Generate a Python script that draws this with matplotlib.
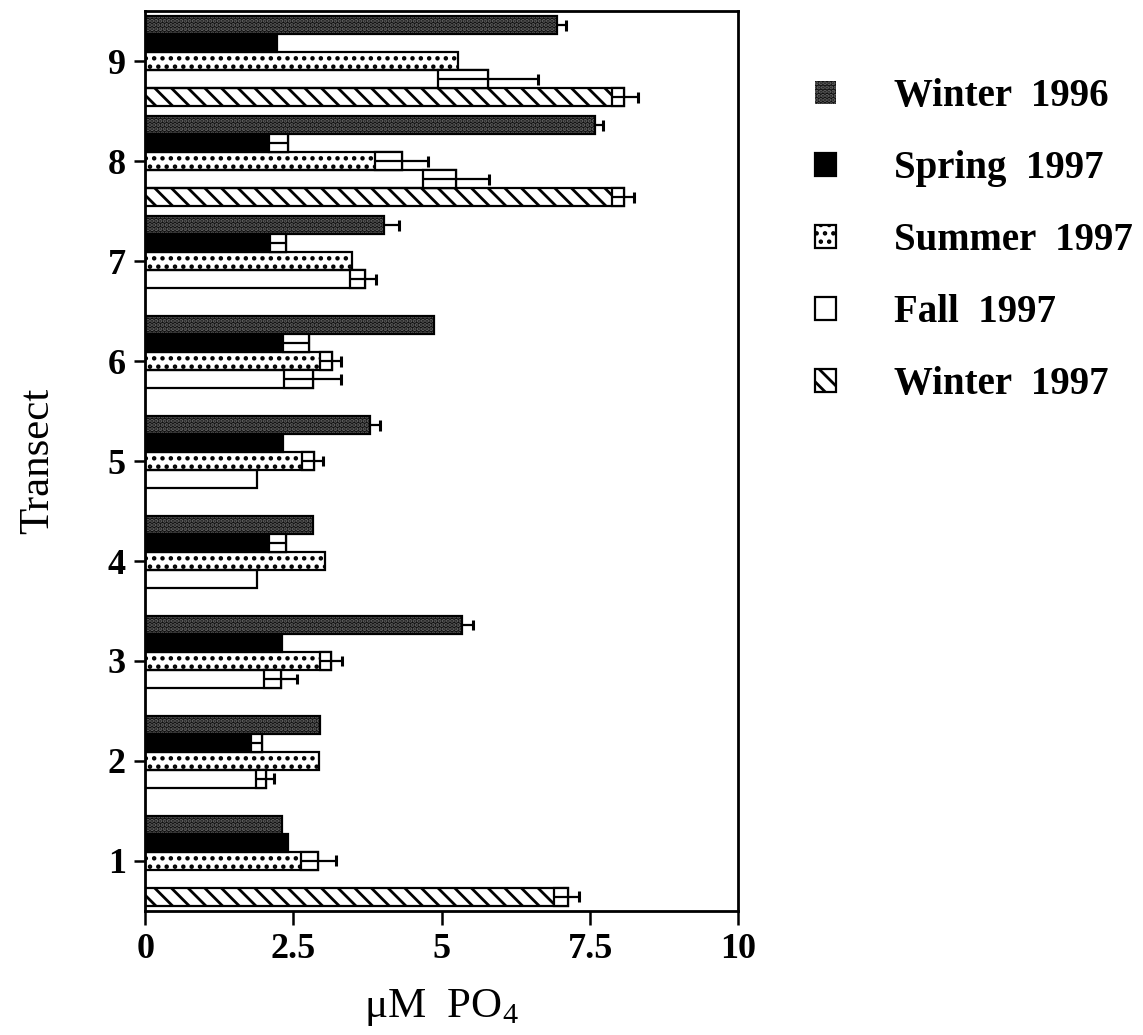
import numpy as np
import matplotlib
matplotlib.use("Agg")
import matplotlib.pyplot as plt
from matplotlib.patches import Patch

plt.rcParams["font.family"] = ["Liberation Serif", "DejaVu Serif"]
plt.rcParams["mathtext.fontset"] = "custom"
plt.rcParams["mathtext.rm"] = "Liberation Serif"
plt.rcParams["hatch.linewidth"] = 2.0

# phosphate (uM PO4) by transect, one list per survey
transects = [1, 2, 3, 4, 5, 6, 7, 8, 9]
seasons = ["Winter  1996", "Spring  1997", "Summer  1997", "Fall  1997", "Winter  1997"]

winter96 = [2.30, 2.94, 5.34, 2.83, 3.79, 4.87, 4.03, 7.59, 6.95]
winter96_lo = [0, 0, 0, 0, 0, 0, 0, 0, 0]
winter96_hi = [0, 0, 0.18, 0, 0.17, 0, 0.25, 0.13, 0.15]

spring97 = [2.40, 1.97, 2.30, 2.37, 2.32, 2.76, 2.37, 2.40, 2.22]
spring97_lo = [0, 0.18, 0, 0.28, 0, 0.44, 0.27, 0.31, 0]
spring97_hi = [0, 0, 0, 0, 0, 0, 0, 0, 0]

summer97 = [2.92, 2.93, 3.14, 3.04, 2.84, 3.15, 3.49, 4.33, 5.27]
summer97_lo = [0.30, 0, 0.20, 0, 0.20, 0.21, 0, 0.45, 0]
summer97_hi = [0.29, 0, 0.18, 0, 0.16, 0.15, 0, 0.43, 0]

fall97 = [np.nan, 2.03, 2.29, 1.88, 1.88, 2.83, 3.70, 5.24, 5.78]
fall97_lo = [0, 0.16, 0.29, 0, 0, 0.49, 0.24, 0.56, 0.85]
fall97_hi = [0, 0.14, 0.27, 0, 0, 0.47, 0.19, 0.56, 0.85]

winter97 = [7.12, np.nan, np.nan, np.nan, np.nan, np.nan, np.nan, 8.08, 8.08]
winter97_lo = [0.22, 0, 0, 0, 0, 0, 0, 0.21, 0.21]
winter97_hi = [0.19, 0, 0, 0, 0, 0, 0, 0.16, 0.22]

series = [
    (winter96, winter96_lo, winter96_hi),
    (spring97, spring97_lo, spring97_hi),
    (summer97, summer97_lo, summer97_hi),
    (fall97, fall97_lo, fall97_hi),
    (winter97, winter97_lo, winter97_hi),
]

# fill styles: (facecolor, hatch, hatch colour)
styles = [
    ("0.06", "....", "0.40"),
    ("black", None, "black"),
    ("white", "..", "black"),
    ("white", None, "black"),
    ("white", "\\\\", "black"),
]

bar_h = 0.18
offsets = [0.36, 0.18, 0.0, -0.18, -0.36]

fig = plt.figure(figsize=(11.43, 10.35), dpi=100)
ax = fig.add_axes([0.127, 0.12, 0.519, 0.869])

y = np.array(transects, dtype=float)
for (vals, lo, hi), (fc, hatch, hc), off in zip(series, styles, offsets):
    vals = np.array(vals)
    lo = np.array(lo)
    hi = np.array(hi)
    ok = ~np.isnan(vals)
    pos = y[ok] + off
    # fill with hatch, then a black outline on top
    ax.barh(pos, vals[ok], height=bar_h, color=fc, edgecolor=hc,
            hatch=hatch, linewidth=0, zorder=2)
    ax.barh(pos, vals[ok], height=bar_h, fill=False, edgecolor="black",
            linewidth=1.6, zorder=3)

    # inner half of the error bar: cleared box with a centre line
    m = ok & (lo > 0)
    if m.any():
        ax.barh(y[m] + off, lo[m], left=vals[m] - lo[m], height=bar_h,
                color="white", edgecolor="black", linewidth=1.6, zorder=4)
        ax.hlines(y[m] + off, vals[m] - lo[m], vals[m], color="black",
                  linewidth=1.6, zorder=5)

    # outer half with cap
    m = ok & (hi > 0)
    if m.any():
        ax.hlines(y[m] + off, vals[m], vals[m] + hi[m], color="black",
                  linewidth=1.6, zorder=5)
        ax.vlines(vals[m] + hi[m], y[m] + off - bar_h * 0.3,
                  y[m] + off + bar_h * 0.3, color="black",
                  linewidth=2.2, zorder=5)

ax.set_xlim(0, 10)
ax.set_ylim(0.5, 9.5)
ax.set_xticks([0, 2.5, 5, 7.5, 10])
ax.set_xticklabels(["0", "2.5", "5", "7.5", "10"])
ax.set_yticks(transects)
ax.set_yticklabels([str(t) for t in transects])
ax.tick_params(axis="x", direction="out", length=10, width=1.8, pad=6,
               labelsize=26)
ax.tick_params(axis="y", direction="out", length=8, width=1.8, pad=6,
               labelsize=26)
for lab in ax.get_xticklabels() + ax.get_yticklabels():
    lab.set_fontweight("bold")
for sp in ax.spines.values():
    sp.set_linewidth(2.0)

ax.set_xlabel("\u03bcM  PO$_4$", fontsize=31, labelpad=15)
ax.set_ylabel("Transect", fontsize=31, labelpad=36)

handles = []
for fc, hatch, hc in styles:
    if fc == "0.06":
        handles.append(Patch(facecolor=fc, edgecolor=hc, hatch=hatch, linewidth=0))
    else:
        handles.append(Patch(facecolor=fc, edgecolor=hc, hatch=hatch, linewidth=1.6))
fig.legend(handles, seasons, loc="upper left", bbox_to_anchor=(0.682, 0.958),
           frameon=False, prop={"weight": "bold", "size": 28},
           handlelength=0.55, handleheight=0.55, handletextpad=1.5,
           labelspacing=0.9)

fig.savefig("out.png", dpi=100)
